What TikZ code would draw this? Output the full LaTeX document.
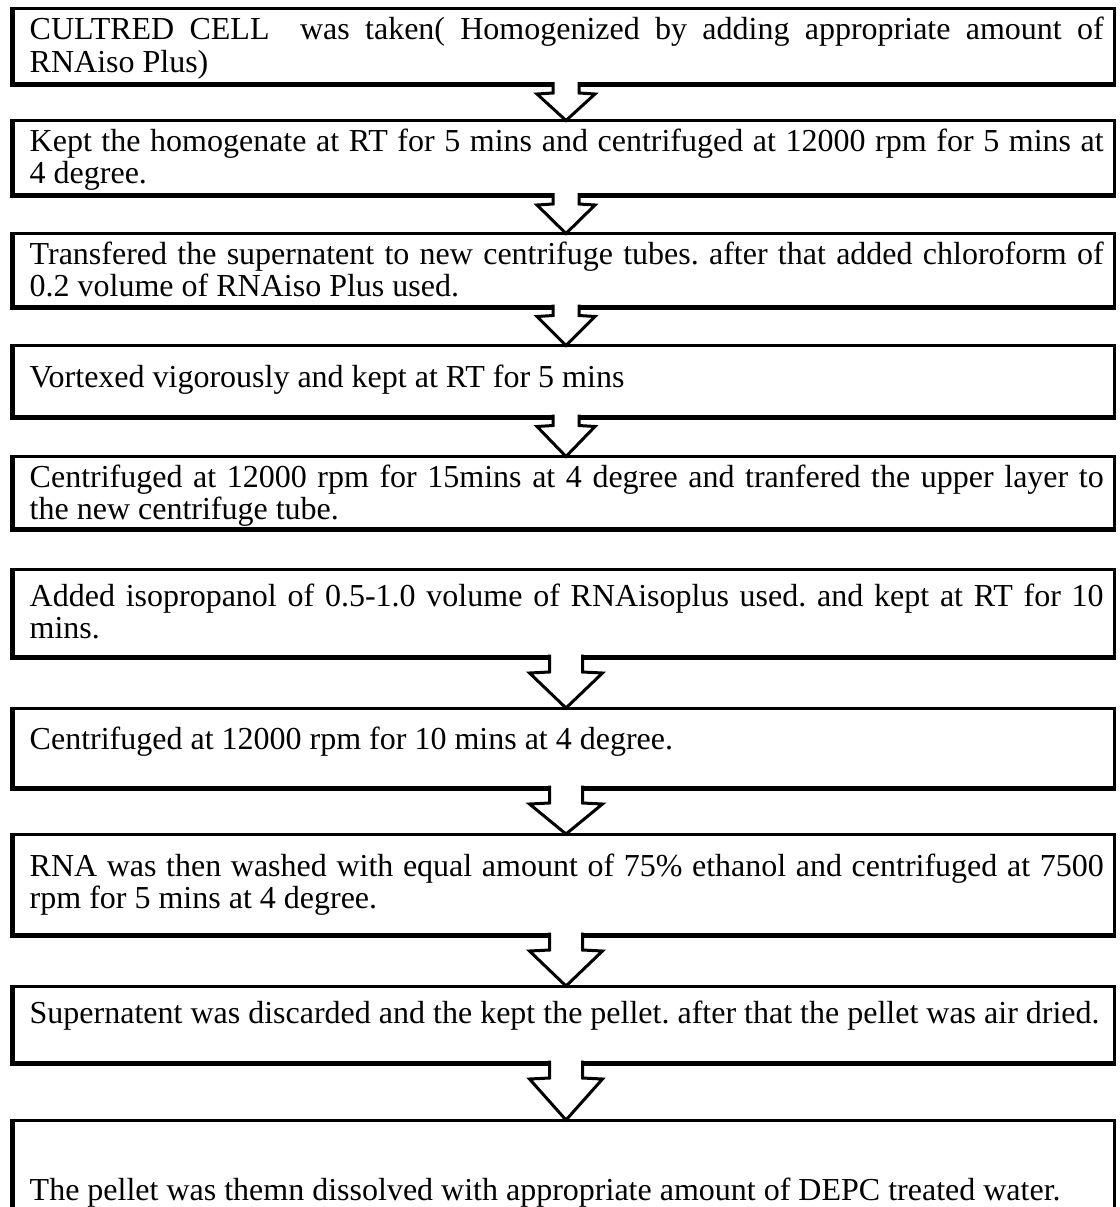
\documentclass[tikz,border=0pt]{standalone}
\usepackage{fontspec}
\setmainfont{Liberation Serif}
\usetikzlibrary{calc}
\frenchspacing
\tikzset{
  boxframe/.style={draw, line width=3pt, fill=white, inner sep=0pt, outer sep=0pt,
    anchor=north west, minimum width=1102pt},
  boxtext/.style={anchor=base west, inner sep=0pt, text width=1074pt, align=justify,
    font=\fontsize{32}{32.5}\selectfont\frenchspacing},
  arrowline/.style={line width=3pt, line join=miter, miter limit=10},
  thickedge/.style={line width=5pt, line join=miter},
}
\newcommand\stepframe[3]{%
  \node[boxframe, minimum height={#3-#2}] (#1) at (12.5,#2) {};
  \draw[thickedge] ([yshift=1.5pt]#1.north west) |- ([xshift=1.5pt]#1.south east);
}
\newcommand\blockarrow[6]{%
  \coordinate (a#1) at ([xshift=2.5pt]#1.south);
  \path[fill=white] ($(a#1)+(-#3,-2.5)$) -- ($(a#1)+(-#3,#4)$) -- ($(a#1)+(-#5,#6)$)
    -- (a#1 |- #2.north) -- ($(a#1)+(#5,#6)$) -- ($(a#1)+(#3,#4)$) -- ($(a#1)+(#3,-2.5)$) -- cycle;
  \draw[arrowline] ($(a#1)+(-#3,-2.5)$) -- ($(a#1)+(-#3,#4)$) -- ($(a#1)+(-#5,#6)$)
    -- (a#1 |- #2.north) -- ($(a#1)+(#5,#6)$) -- ($(a#1)+(#3,#4)$) -- ($(a#1)+(#3,-2.5)$);
}
\begin{document}
\begin{tikzpicture}[x=1pt,y=-1pt]
\clip (0,0) rectangle (1119,1207);
\fill[white] (0,0) rectangle (1119,1207);

\stepframe{b1}{8.5}{84.5}
\stepframe{b2}{120.5}{195.5}
\stepframe{b3}{233.5}{307}
\stepframe{b4}{345.5}{417}
\stepframe{b5}{456.5}{529.5}
\stepframe{b6}{569.5}{657}
\stepframe{b7}{708}{788}
\stepframe{b8}{834}{935}
\stepframe{b9}{986}{1063}
\stepframe{b10}{1120}{1260}

\node[boxtext] (t1) at (29.5,40) {CULTRED CELL\ \ was taken( Homogenized by adding appropriate amount of\linebreak RNAiso Plus)};
\node[boxtext] (t2) at (29.5,151) {Kept the homogenate at RT for 5 mins and centrifuged at 12000 rpm for 5 mins at\linebreak 4 degree.};
\node[boxtext] (t3) at (29.5,264) {Transfered the supernatent to new centrifuge tubes. after that added chloroform of\linebreak 0.2 volume of RNAiso Plus used.};
\node[boxtext] (t4) at (29.5,387) {Vortexed vigorously and kept at RT for 5 mins};
\node[boxtext] (t5) at (29.5,487) {Centrifuged at 12000 rpm for 15mins at 4 degree and tranfered the upper layer to\linebreak the new centrifuge tube.};
\node[boxtext] (t6) at (29.5,606) {Added isopropanol of 0.5-1.0 volume of RNAisoplus used. and kept at RT for 10\linebreak mins.};
\node[boxtext] (t7) at (29.5,749) {Centrifuged at 12000 rpm for 10 mins at 4 degree.};
\node[boxtext] (t8) at (29.5,876) {RNA was then washed with equal amount of 75\% ethanol and centrifuged at 7500\linebreak rpm for 5 mins at 4 degree.};
\node[boxtext] (t9) at (29.5,1023) {Supernatent was discarded and the kept the pellet. after that the pellet was air dried.};
\node[boxtext] (t10) at (29.5,1200) {The pellet was themn dissolved with appropriate amount of DEPC treated water.};

\blockarrow{b1}{b2}{13}{8.5}{29}{9.5}
\blockarrow{b2}{b3}{13}{8.5}{29}{9.5}
\blockarrow{b3}{b4}{13}{8.5}{29}{9.5}
\blockarrow{b4}{b5}{13}{8.5}{29}{9.5}
\blockarrow{b6}{b7}{16.5}{15}{36.5}{16}
\blockarrow{b7}{b8}{16.5}{15}{36.5}{16}
\blockarrow{b8}{b9}{16.5}{15}{36.5}{16}
\blockarrow{b9}{b10}{16.5}{15}{36.5}{16}
\end{tikzpicture}
\end{document}
